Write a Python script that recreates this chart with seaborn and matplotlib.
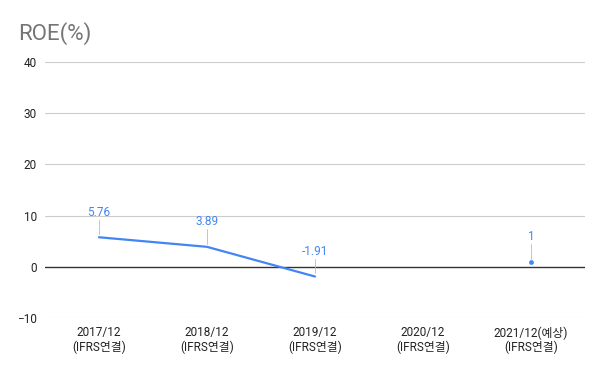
import numpy as np
import pandas as pd
import matplotlib
matplotlib.use("Agg")
import matplotlib.pyplot as plt
import seaborn as sns

# data
periods = ["2017/12\n(IFRS연결)", "2018/12\n(IFRS연결)", "2019/12\n(IFRS연결)",
           "2020/12\n(IFRS연결)", "2021/12(예상)\n(IFRS연결)"]
roe = [5.76, 3.89, -1.91, np.nan, 1]
value_labels = ["5.76", "3.89", "-1.91", "", "1"]
y_ticks = [-10, 0, 10, 20, 30, 40]

sns.set_theme(style="white")
plt.rcParams['font.family'] = ['Roboto', 'Noto Sans CJK KR', 'DejaVu Sans']

df = pd.DataFrame({"pos": range(len(periods)), "roe": roe})
# split into runs of non-missing values
df["seg"] = df["roe"].isna().cumsum()
valid = df.dropna()
seg_size = valid.groupby("seg")["pos"].transform("size")
lines = valid[seg_size > 1]
singles = valid[seg_size == 1]

blue = "#4285F4"

fig = plt.figure(figsize=(6, 3.71), dpi=100)
ax = fig.add_axes([0.075, 0.143, 0.9, 0.69])

for yt in y_ticks:
    if yt == 0:
        continue
    ax.axhline(yt, color="#cccccc", lw=0.8, zorder=0)
ax.axhline(0, color="#333333", lw=1, zorder=1)

sns.lineplot(data=lines, x="pos", y="roe", units="seg", estimator=None,
             color=blue, lw=1.6, ax=ax, zorder=3)
sns.scatterplot(data=singles, x="pos", y="roe", color=blue, s=10,
                edgecolor=blue, ax=ax, zorder=3)

# data labels with thin leader lines
for i, (v, lab) in enumerate(zip(roe, value_labels)):
    if np.isnan(v):
        continue
    ax.plot([i, i], [v + 0.6, v + 3.4], color="#bbbbbb", lw=0.6, zorder=2)
    ax.text(i, v + 3.6, lab, color=blue, fontsize=8.5, ha="center", va="bottom")

ax.set_xlim(-0.5, len(periods) - 0.5)
ax.set_ylim(-10, 40)
ax.set_yticks(y_ticks)
ax.set_xticks(range(len(periods)))
ax.set_xticklabels(periods, fontsize=8.5, color="#222222", linespacing=1.1)
ax.tick_params(axis="y", labelsize=8.5, labelcolor="#222222", length=0, pad=6)
ax.tick_params(axis="x", length=0, pad=6)
ax.set_xlabel("")
ax.set_ylabel("")
for s in ax.spines.values():
    s.set_visible(False)

fig.text(0.03, 0.91, "ROE(%)", fontsize=16, color="#757575", va="center", ha="left")

fig.savefig("out.png", dpi=100, facecolor="white")
